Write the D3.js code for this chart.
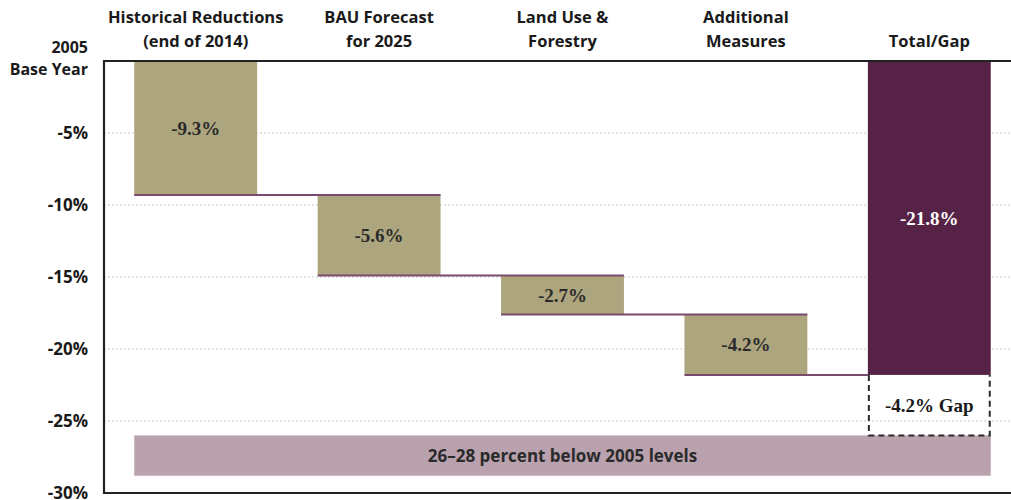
<!DOCTYPE html>
<html><head><meta charset="utf-8">
<script src="https://cdn.jsdelivr.net/npm/d3@7"></script>
<style>
body{margin:0;background:#fff;}
svg{display:block;}
</style></head>
<body>
<svg id="c" width="1011" height="500"></svg>
<script>
// ---- data ----
const categories = ["Historical Reductions|(end of 2014)", "BAU Forecast|for 2025", "Land Use &|Forestry", "Additional|Measures", "|Total/Gap"];
const steps = [-9.3, -5.6, -2.7, -4.2];
const totalValue = -21.8;
const gapValue = -4.2;
const targetBand = [-26, -28.8];
const targetLabel = "26\u201328 percent below 2005 levels";
const yTicks = [-5, -10, -15, -20, -25, -30];
const baseLabel = ["2005", "Base Year"];

// ---- layout ----
const svg = d3.select("#c");
const pL = 104, pT = 61, pB = 493, pR = 1011;
const y = d3.scaleLinear().domain([0, -30]).range([pT, pB]);
const x = d3.scaleBand().domain(categories).range([pL, 1021]).paddingInner(0.33).paddingOuter(0.165);
const bw = x.bandwidth();

const sans = "'Open Sans', sans-serif";
const serif = "'Liberation Serif', 'DejaVu Serif', serif";

// gridlines
svg.append("g").selectAll("line").data(yTicks.filter(d => d > -30)).join("line")
  .attr("x1", pL).attr("x2", pR)
  .attr("y1", d => y(d)).attr("y2", d => y(d))
  .attr("stroke", "#c8c8c8").attr("stroke-width", 1).attr("stroke-dasharray", "2,2");

// target band
svg.append("rect")
  .attr("x", x(categories[0])).attr("width", x(categories[4]) + bw - x(categories[0]))
  .attr("y", y(targetBand[0])).attr("height", y(targetBand[1]) - y(targetBand[0]))
  .attr("fill", "#b9a1ad");
svg.append("text")
  .attr("x", (x(categories[0]) + x(categories[4]) + bw) / 2)
  .attr("y", (y(targetBand[0]) + y(targetBand[1])) / 2)
  .attr("dy", "0.35em").attr("text-anchor", "middle")
  .attr("font-family", sans).attr("font-weight", 700).attr("font-size", 17).attr("fill", "#2a2a2a")
  .text(targetLabel);

// waterfall bars
let cum = 0;
const bars = steps.map((v, i) => { const s = cum; cum += v; return {cat: categories[i], start: s, end: cum, v}; });
svg.append("g").selectAll("rect").data(bars).join("rect")
  .attr("x", d => x(d.cat)).attr("width", bw)
  .attr("y", d => y(d.start)).attr("height", d => y(d.end) - y(d.start))
  .attr("fill", "#ada57d");

// connectors
bars.forEach((d, i) => {
  const nextCat = categories[i + 1];
  const x2 = i < bars.length - 1 ? x(nextCat) + bw : x(nextCat);
  svg.append("line")
    .attr("x1", x(d.cat)).attr("x2", x2)
    .attr("y1", y(d.end)).attr("y2", y(d.end))
    .attr("stroke", "#7a4a6c").attr("stroke-width", 2);
});

svg.append("g").selectAll("text").data(bars).join("text")
  .attr("x", d => x(d.cat) + bw / 2)
  .attr("y", d => (y(d.start) + y(d.end)) / 2)
  .attr("dy", "0.35em").attr("text-anchor", "middle")
  .attr("font-family", serif).attr("font-weight", 700).attr("font-size", 19).attr("fill", "#2a2a2a")
  .text(d => d.v.toFixed(1) + "%");

// total bar
const tc = categories[4];
svg.append("rect")
  .attr("x", x(tc)).attr("width", bw)
  .attr("y", y(0)).attr("height", y(totalValue) - y(0))
  .attr("fill", "#562346");
svg.append("text")
  .attr("x", x(tc) + bw / 2).attr("y", (y(0) + y(totalValue)) / 2)
  .attr("dy", "0.35em").attr("text-anchor", "middle")
  .attr("font-family", serif).attr("font-weight", 700).attr("font-size", 19).attr("fill", "#fff")
  .text(totalValue.toFixed(1) + "%");

// gap box
const g0 = y(totalValue), g1 = y(totalValue + gapValue);
svg.append("path")
  .attr("d", `M${x(tc) + 1},${g0} V${g1} H${x(tc) + bw - 1} V${g0}`)
  .attr("fill", "none").attr("stroke", "#2a2a2a").attr("stroke-width", 2).attr("stroke-dasharray", "6,4");
svg.append("text")
  .attr("x", x(tc) + bw / 2).attr("y", (g0 + g1) / 2)
  .attr("dy", "0.35em").attr("text-anchor", "middle")
  .attr("font-family", serif).attr("font-weight", 700).attr("font-size", 19).attr("fill", "#1a1a1a")
  .text(gapValue.toFixed(1) + "% Gap");

// frame
svg.append("path")
  .attr("d", `M${pR},${pT} H${pL} V${pB} H${pR}`)
  .attr("fill", "none").attr("stroke", "#222").attr("stroke-width", 2.2);

// y axis labels
svg.append("g").selectAll("text").data(yTicks).join("text")
  .attr("x", 88).attr("y", d => y(d)).attr("dy", "0.35em").attr("text-anchor", "end")
  .attr("font-family", sans).attr("font-weight", 700).attr("font-size", 17).attr("fill", "#1a1a1a")
  .text(d => d + "%");
svg.append("g").selectAll("text").data(baseLabel).join("text")
  .attr("x", 88).attr("y", (d, i) => 53 + i * 22).attr("text-anchor", "end")
  .attr("font-family", sans).attr("font-weight", 700).attr("font-size", 16).attr("fill", "#1a1a1a")
  .text(d => d);

// header labels
categories.forEach(c => {
  const lines = c.split("|");
  lines.forEach((ln, i) => {
    if (!ln) return;
    svg.append("text")
      .attr("x", x(c) + bw / 2).attr("y", 23 + i * 24).attr("text-anchor", "middle")
      .attr("font-family", sans).attr("font-weight", 700).attr("font-size", 16.5).attr("fill", "#1a1a1a")
      .text(ln);
  });
});
</script>
</body></html>
